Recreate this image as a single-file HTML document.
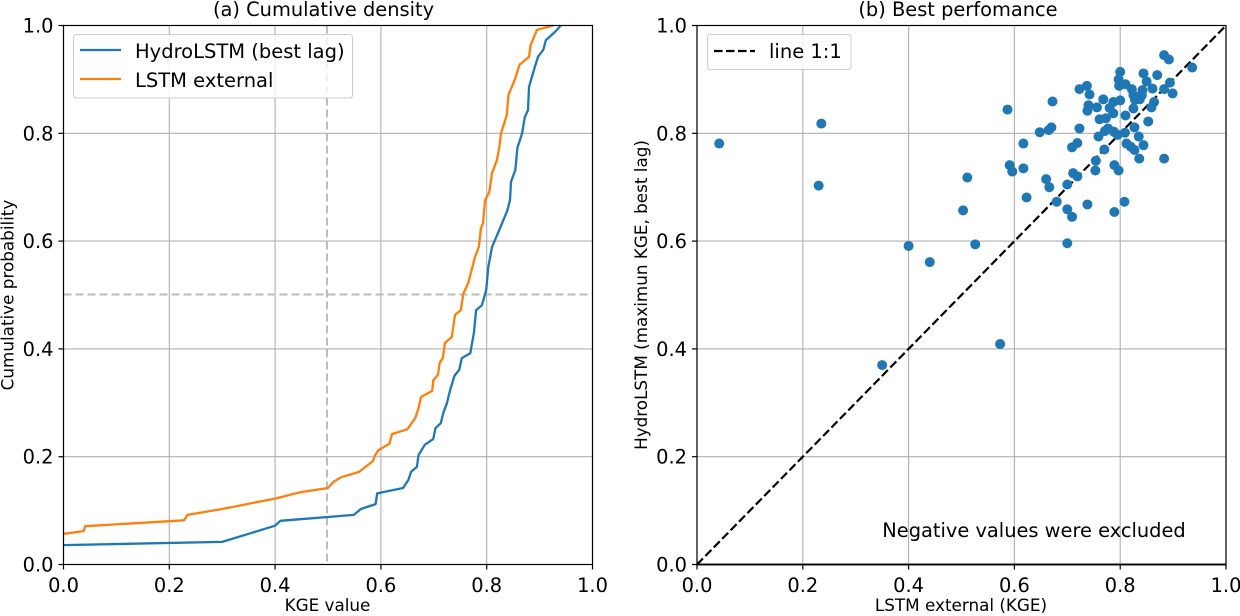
<!DOCTYPE html>
<html lang="en">
<head>
<meta charset="utf-8">
<title>Cumulative density and best performance</title>
<style>
html,body{margin:0;padding:0;background:#fff;width:1240px;height:616px;overflow:hidden}
svg{display:block}
text{font-family:"DejaVu Sans","Liberation Sans",sans-serif;fill:#000}
</style>
</head>
<body>
<svg id="fig" width="1240" height="616" viewBox="0 0 1240 616" xmlns="http://www.w3.org/2000/svg">
  <g id="panelA"></g>
  <g id="panelB"></g>
</svg>
<script>
const tickValues = [0, 0.2, 0.4, 0.6, 0.8, 1.0];
const tickLabels = ["0.0", "0.2", "0.4", "0.6", "0.8", "1.0"];

const hydroKge = [0,.30,.36,.40,.41,.523,.549,.562,.590,.593,.642,.652,.657,.668,.671,.683,.699,.703,.713,.718,.725,.731,.739,.748,.753,.769,.776,.78,.791,.799,.803,.81,.826,.839,.844,.846,.854,.858,.867,.872,.878,.88,.891,.897,.907,.912,.929,.94];
const hydroProb = [.036,.042,.06,.072,.081,.09,.092,.103,.112,.132,.142,.157,.172,.181,.203,.222,.233,.253,.262,.281,.30,.324,.35,.361,.383,.392,.431,.472,.481,.509,.552,.589,.626,.657,.676,.71,.732,.773,.80,.83,.843,.886,.923,.942,.955,.973,.988,1];

const lstmKge = [0,.038,.041,.228,.234,.30,.403,.447,.5,.51,.525,.559,.585,.589,.595,.616,.621,.65,.665,.671,.676,.697,.699,.708,.711,.717,.721,.734,.74,.751,.756,.765,.778,.785,.789,.793,.797,.805,.81,.819,.824,.827,.838,.841,.853,.862,.88,.883,.895,.926];
const lstmProb = [.057,.062,.071,.082,.092,.103,.123,.134,.142,.153,.162,.172,.192,.203,.212,.224,.242,.251,.272,.29,.311,.322,.342,.352,.374,.383,.411,.422,.463,.472,.503,.522,.571,.589,.624,.633,.676,.691,.726,.75,.775,.80,.834,.871,.899,.927,.942,.964,.992,1];

const scatterLstm = [.042,.235,.23,.40,.44,.35,.573,.883,.892,.936,.80,.844,.87,.797,.85,.894,.798,.81,.737,.723,.822,.861,.883,.842,.899,.742,.825,.841,.672,.587,.768,.80,.787,.828,.837,.864,.74,.756,.78,.825,.859,.738,.787,.81,.761,.773,.853,.648,.665,.67,.723,.777,.771,.788,.827,.759,.795,.809,.835,.617,.719,.709,.77,.812,.82,.827,.844,.836,.883,.754,.617,.591,.596,.511,.753,.789,.797,.711,.719,.66,.666,.70,.623,.68,.70,.709,.738,.808,.789,.503,.70,.526];
const scatterHydro = [.781,.818,.703,.591,.561,.37,.409,.945,.937,.922,.914,.911,.908,.90,.896,.894,.888,.891,.888,.882,.882,.883,.882,.88,.874,.872,.871,.871,.859,.844,.863,.861,.858,.862,.863,.858,.852,.848,.847,.846,.848,.842,.837,.833,.826,.828,.822,.802,.806,.811,.809,.809,.804,.803,.811,.794,.797,.801,.794,.781,.782,.774,.77,.781,.775,.769,.778,.753,.753,.749,.735,.741,.729,.718,.731,.741,.731,.726,.72,.715,.70,.705,.681,.673,.659,.645,.668,.673,.654,.657,.596,.594];

const oneToOne = [0, 1];

const SVGNS = "http://www.w3.org/2000/svg";
const plotTop = 25.5, plotBottom = 564.5, plotWidth = 529;
function scaleX(x0, v){ return x0 + v * plotWidth; }
function scaleY(v){ return plotBottom - v * (plotBottom - plotTop); }
function mk(parent, tag, attrs, text){
  const el = document.createElementNS(SVGNS, tag);
  for (const k in attrs) el.setAttribute(k, attrs[k]);
  if (text !== undefined) el.textContent = text;
  parent.appendChild(el);
  return el;
}
function grid(g, x0){
  tickValues.forEach(function(t){
    const vx = mk(g, "line", {x1:scaleX(x0,t), x2:scaleX(x0,t), y1:plotTop, y2:plotBottom, stroke:"#b0b0b0", "stroke-width":1.1});
    
    
    const hz = mk(g, "line", {x1:x0, x2:x0+plotWidth, y1:scaleY(t), y2:scaleY(t), stroke:"#b0b0b0", "stroke-width":1.1});
    
    
  });
}
function frame(g, x0){
  const r = mk(g, "rect", {x:x0, y:plotTop, width:plotWidth, height:plotBottom-plotTop, fill:"none", stroke:"#000", "stroke-width":1.2});
  
  
  tickValues.forEach(function(t, i){
    const xt = mk(g, "line", {x1:scaleX(x0,t), x2:scaleX(x0,t), y1:plotBottom, y2:plotBottom+5, stroke:"#000", "stroke-width":1.2});
    
    
    const xl = mk(g, "text", {x:scaleX(x0,t), y:592, "text-anchor":"middle", "font-size":19.4}, tickLabels[i]);
    
    
    const yt = mk(g, "line", {x1:x0-5, x2:x0, y1:scaleY(t), y2:scaleY(t), stroke:"#000", "stroke-width":1.2});
    
    
    const yl = mk(g, "text", {x:x0-10, y:scaleY(t)+7, "text-anchor":"end", "font-size":19.4}, tickLabels[i]);
    
    
  });
}
function path(x0, xs, ys){
  return xs.map(function(v, i){ return (i ? "L" : "M") + scaleX(x0, v).toFixed(1) + " " + scaleY(ys[i]).toFixed(1); }).join("");
}

/* Panel A */
const a = document.getElementById("panelA");
const ax0 = 63.5;
grid(a, ax0);
const guideV = mk(a, "line", {x1:scaleX(ax0,.498), x2:scaleX(ax0,.498), y1:plotTop, y2:plotBottom, stroke:"#bbb", "stroke-width":2, "stroke-dasharray":"8 4"});


const guideH = mk(a, "line", {x1:ax0, x2:ax0+plotWidth, y1:scaleY(.501), y2:scaleY(.501), stroke:"#bbb", "stroke-width":2, "stroke-dasharray":"8 4"});


const hydroLine = mk(a, "path", {d:path(ax0, hydroKge, hydroProb), fill:"none", stroke:"#1f77b4", "stroke-width":2.3, "stroke-linejoin":"round"});


const lstmLine = mk(a, "path", {d:path(ax0, lstmKge, lstmProb), fill:"none", stroke:"#ff7f0e", "stroke-width":2.3, "stroke-linejoin":"round"});


frame(a, ax0);

/* Panel B */
const b = document.getElementById("panelB");
const bx0 = 697;
grid(b, bx0);
const idLine = mk(b, "line", {x1:scaleX(bx0,oneToOne[0]), y1:scaleY(oneToOne[0]), x2:scaleX(bx0,oneToOne[1]), y2:scaleY(oneToOne[1]), stroke:"#000", "stroke-width":2.2, "stroke-dasharray":"8.5 3.5"});


scatterLstm.forEach(function(v, i){
  const c = mk(b, "circle", {cx:scaleX(bx0,v), cy:scaleY(scatterHydro[i]), r:5, fill:"#1f77b4"});
  
  
});
const baseLine = mk(b, "line", {x1:bx0, x2:bx0+plotWidth, y1:plotBottom, y2:plotBottom, stroke:"#222", "stroke-width":2});


frame(b, bx0);
</script>
<svg style="position:absolute;left:0;top:0" width="1240" height="616" viewBox="0 0 1240 616" xmlns="http://www.w3.org/2000/svg">
  <text x="323.5" y="16" text-anchor="middle" font-size="19.4">(a) Cumulative density</text>
  <text x="327.5" y="611" text-anchor="middle" font-size="16.8">KGE value</text>
  <text transform="translate(8.5 295) rotate(-90)" text-anchor="middle" font-size="16.8" dominant-baseline="middle">Cumulative probability</text>
  <g>
    <rect x="73.5" y="34.5" width="279" height="63.5" rx="3" fill="#fff" fill-opacity="0.8" stroke="#ccc" stroke-width="1"/>
    <line x1="80" x2="121" y1="50" y2="50" stroke="#1f77b4" stroke-width="2.3"/>
    <text x="135" y="58" font-size="19.5">HydroLSTM (best lag)</text>
    <line x1="80" x2="121" y1="79" y2="79" stroke="#ff7f0e" stroke-width="2.3"/>
    <text x="135" y="87" font-size="19.5">LSTM external</text>
  </g>
  <text x="958" y="16" text-anchor="middle" font-size="19.4">(b) Best perfomance</text>
  <text x="961" y="611" text-anchor="middle" font-size="16.8">LSTM external (KGE)</text>
  <text transform="translate(642 295) rotate(-90)" text-anchor="middle" font-size="16.8" dominant-baseline="middle">HydroLSTM (maximun KGE, best lag)</text>
  <g>
    <rect x="707.5" y="34.5" width="143.5" height="35" rx="3" fill="#fff" fill-opacity="0.8" stroke="#ccc" stroke-width="1"/>
    <line x1="714" x2="755" y1="51" y2="51" stroke="#000" stroke-width="2.2" stroke-dasharray="8.5 3.5"/>
    <text x="769" y="58" font-size="19.5">line 1:1</text>
  </g>
  <text x="1034" y="537" text-anchor="middle" font-size="19.4">Negative values were excluded</text>
</svg>
</body>
</html>
